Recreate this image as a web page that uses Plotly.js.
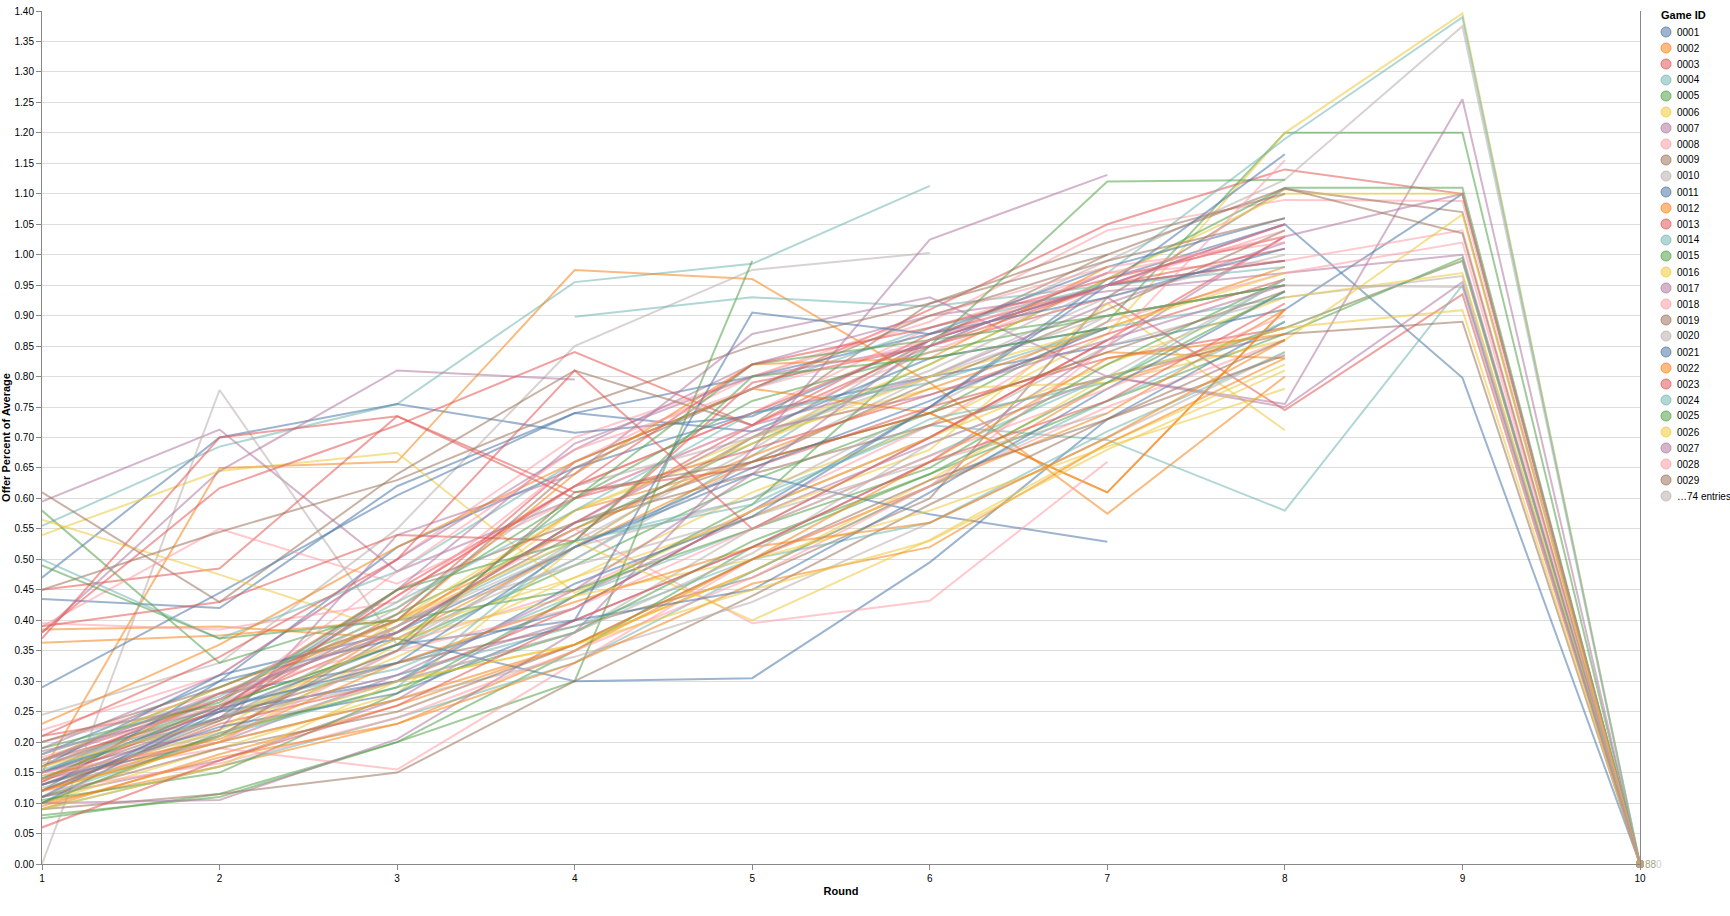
<!DOCTYPE html>
<html>
<head>
<meta charset="utf-8">
<script src="https://cdn.plot.ly/plotly-3.0.1.min.js"></script>
<style>
html,body{margin:0;padding:0;background:#fff;}
#chart{width:1730px;height:916px;}
</style>
</head>
<body>
<div id="chart"></div>
<script>
// ---------- data ----------
const rounds = [1, 2, 3, 4, 5, 6, 7, 8, 9, 10];

const palette = ["#4c78a8", "#f58518", "#e45756", "#72b7b2", "#54a24b",
                 "#eeca3b", "#b279a2", "#ff9da6", "#9d755d", "#bab0ac"];

// Offer percent of average, rounds 1..10 (null = no offer that round)
const offers001to020 = [
  [0.15, 0.28, 0.33, 0.42, 0.58, 0.75, 0.96, 1.05, 0.798, 0],
  [0.12, 0.21, 0.39, 0.58, 0.66, 0.74, 0.84, 0.83, null, null],
  [0.17, 0.25, 0.41, 0.66, 0.78, 0.91, 1.05, 1.14, 1.10, 0],
  [0.555, 0.685, 0.755, 0.955, 0.985, 1.113, null, null, null, null],
  [0.16, 0.26, 0.36, 0.49, 0.63, 0.74, 0.89, 1.20, 1.20, 0],
  [0.13, 0.22, 0.34, 0.47, 0.61, 0.72, 0.87, 1.20, 1.396, 0],
  [0.11, 0.17, 0.27, 0.44, 0.57, 0.69, 0.80, 0.755, 1.255, 0],
  [0.22, 0.31, 0.50, 0.70, 0.80, 0.89, 1.04, 1.09, 1.088, 0],
  [0.15, 0.24, 0.33, 0.39, 0.47, 0.60, 0.93, 1.108, 1.07, 0],
  [0.10, 0.21, 0.35, 0.53, 0.68, 0.86, 0.99, 1.123, 1.375, 0],
  [0.18, 0.30, 0.52, 0.65, 0.74, 0.80, 0.85, 0.91, 1.10, 0],
  [0.09, 0.18, 0.26, 0.36, 0.48, 0.62, 0.79, 0.88, 0.99, 0],
  [0.21, 0.26, 0.38, 0.56, 0.72, 0.85, 0.93, 0.745, 0.935, 0],
  [0.12, 0.24, 0.35, 0.50, 0.67, 0.85, 0.97, 1.19, 1.39, 0],
  [0.17, 0.29, 0.41, 0.55, 0.69, 0.82, 0.96, 1.11, 1.11, 0],
  [0.10, 0.19, 0.28, 0.52, 0.70, 0.82, 0.96, 1.10, 1.10, 0],
  [0.14, 0.20, 0.31, 0.40, 0.52, 0.66, 0.85, 1.03, 1.10, 0],
  [0.16, 0.25, 0.44, 0.62, 0.74, 0.88, 0.97, 0.99, 1.04, 0],
  [0.17, 0.27, 0.39, 0.54, 0.70, 0.86, 1.00, 1.109, 1.035, 0],
  [0.13, 0.24, 0.30, 0.38, 0.55, 0.70, 0.85, 0.93, 0.965, 0]
];

const offers021to040 = [
  [0.47, 0.70, 0.755, 0.708, 0.735, 0.86, 0.95, 0.99, null, null],
  [0.15, 0.65, 0.66, 0.975, 0.96, 0.79, 0.575, 0.80, null, null],
  [0.12, 0.23, 0.30, 0.42, 0.58, 0.70, 0.86, 1.03, null, null],
  [0.15, 0.27, 0.39, 0.53, 0.60, 0.72, 0.696, 0.58, 0.95, 0],
  [0.08, 0.11, 0.20, 0.35, 0.52, 0.64, 0.76, 0.87, 0.995, 0],
  [0.11, 0.22, 0.40, 0.58, 0.70, 0.78, 0.79, 0.86, 1.066, 0],
  [0.19, 0.31, 0.50, 0.68, 0.82, 0.90, 0.94, 0.97, 1.00, 0],
  [0.20, 0.28, 0.36, 0.45, 0.58, 0.72, 0.89, 0.97, 1.02, 0],
  [0.13, 0.21, 0.38, 0.56, 0.64, 0.72, 0.80, 0.87, 0.89, 0],
  [0.245, 0.33, 0.55, 0.85, 0.975, 1.003, null, null, null, null],
  [0.435, 0.42, 0.62, 0.74, 0.80, 0.87, 0.98, 1.06, null, null],
  [0.10, 0.16, 0.23, 0.35, 0.50, 0.62, 0.74, 0.91, null, null],
  [0.16, 0.27, 0.45, 0.62, 0.74, 0.86, 0.95, 0.99, null, null],
  [0.14, 0.26, 0.32, 0.44, 0.55, 0.67, 0.80, 0.88, 0.99, 0],
  [0.075, 0.115, 0.20, 0.30, 0.99, null, null, null, null, null],
  [0.54, 0.645, 0.675, 0.445, 0.58, 0.70, 0.82, 0.93, 0.97, 0],
  [0.595, 0.713, 0.48, 0.60, 0.72, 0.80, 0.92, 1.02, null, null],
  [0.14, 0.19, 0.155, 0.33, 0.50, 0.62, 0.75, 0.86, null, null],
  [0.61, 0.43, 0.64, 0.81, 0.72, 0.92, 1.00, null, null, null],
  [0.00, 0.778, 0.36, 0.52, 0.60, 0.75, 0.90, 0.95, null, null]
];

const offers041to060 = [
  [0.29, 0.445, 0.605, 0.74, 0.71, 0.83, 0.88, null, null, null],
  [0.385, 0.39, 0.37, 0.52, 0.66, 0.74, 0.61, 0.91, null, null],
  [0.45, 0.485, 0.735, 0.61, 0.65, 0.75, 0.83, 0.88, null, null],
  [null, null, null, 0.898, 0.93, 0.915, 0.95, null, null, null],
  [0.58, 0.33, 0.42, 0.60, 0.76, 0.84, 0.90, 0.95, null, null],
  [0.565, 0.475, 0.38, 0.47, 0.57, 0.68, 0.92, 0.712, null, null],
  [0.38, 0.645, 0.81, 0.795, null, null, null, null, null, null],
  [0.39, 0.55, 0.46, 0.60, 0.72, 0.84, 0.95, 1.04, null, null],
  [0.45, 0.545, 0.63, 0.75, 0.85, 0.92, 1.02, 1.10, null, null],
  [0.17, 0.24, 0.37, 0.50, 0.66, 0.80, 0.90, 0.95, 0.947, 0],
  [0.12, 0.30, 0.37, 0.30, 0.305, 0.495, 0.73, 0.89, null, null],
  [0.363, 0.375, 0.40, 0.55, 0.67, 0.78, 0.88, 0.98, null, null],
  [0.38, 0.617, 0.72, 0.84, 0.72, 0.87, 0.95, 1.05, null, null],
  [0.50, 0.37, 0.48, 0.66, 0.78, 0.88, 0.95, 0.98, null, null],
  [0.49, 0.37, 0.40, 0.45, 0.55, 0.65, 0.82, 0.96, null, null],
  [0.10, 0.21, 0.30, 0.36, 0.48, 0.63, 0.80, 0.88, 0.909, 0],
  [0.15, 0.22, 0.54, 0.64, 0.87, 0.93, 0.80, 0.75, 0.955, 0],
  [0.395, 0.385, 0.43, 0.66, 0.80, 0.90, 0.98, 1.02, null, null],
  [0.09, 0.115, 0.15, 0.30, 0.44, 0.59, 0.73, 0.86, null, null],
  [0.15, 0.26, 0.42, 0.62, 0.70, 0.80, 0.93, 1.00, null, null]
];

const offers061to080 = [
  [0.16, 0.31, 0.38, 0.52, 0.64, 0.574, 0.529, null, null, null],
  [0.23, 0.36, 0.52, 0.66, 0.78, 0.74, 0.61, 0.91, null, null],
  [0.37, 0.70, 0.735, 0.60, 0.68, 0.77, 0.87, 0.96, null, null],
  [0.09, 0.16, 0.24, 0.33, 0.48, 0.62, 0.76, 0.89, null, null],
  [0.105, 0.15, 0.28, 0.44, 0.59, 0.85, 1.12, 1.123, null, null],
  [0.12, 0.20, 0.36, 0.58, 0.69, 0.80, 0.88, 0.97, null, null],
  [0.10, 0.105, 0.205, 0.38, 0.68, 1.025, 1.131, null, null, null],
  [0.18, 0.27, 0.39, 0.55, 0.395, 0.432, 0.66, null, null, null],
  [0.14, 0.24, 0.45, 0.56, 0.66, 0.79, 0.91, 1.04, null, null],
  [0.20, 0.27, 0.40, 0.49, 0.57, 0.66, 0.74, null, null, null],
  [0.10, 0.25, 0.30, 0.46, 0.57, 0.75, 0.95, 1.165, null, null],
  [0.135, 0.28, 0.40, 0.64, 0.82, 0.83, 0.98, null, null, null],
  [0.39, 0.43, 0.54, 0.53, 0.79, 0.85, 0.95, 1.01, null, null],
  [0.155, 0.24, 0.31, 0.39, 0.50, 0.56, 0.71, 0.84, null, null],
  [0.14, 0.26, 0.36, 0.60, 0.82, 0.86, 0.90, 0.95, null, null],
  [0.17, 0.29, 0.40, 0.53, 0.40, 0.532, 0.69, 0.82, null, null],
  [0.185, 0.255, 0.45, 0.69, 0.80, 0.85, 0.97, null, null, null],
  [0.12, 0.165, 0.24, 0.35, 0.47, 0.62, 0.85, 1.155, null, null],
  [0.20, 0.29, 0.40, 0.65, 0.78, 0.90, 0.99, 1.06, null, null],
  [0.125, 0.20, 0.27, 0.34, 0.43, 0.56, 0.70, 0.84, null, null]
];

const offers081to103 = [
  [0.15, 0.25, 0.36, 0.40, 0.905, 0.87, 0.93, 1.01, null, null],
  [0.095, 0.175, 0.23, 0.33, 0.46, 0.52, 0.69, 0.83, null, null],
  [0.135, 0.255, 0.44, 0.62, 0.82, 0.88, 0.96, 1.03, null, null],
  [0.11, 0.21, 0.29, 0.53, 0.59, 0.73, 0.79, 0.96, null, null],
  [0.19, 0.265, 0.45, 0.53, 0.80, 0.83, 0.88, null, null, null],
  [0.16, 0.235, 0.37, 0.44, 0.50, 0.58, 0.685, 0.78, null, null],
  [0.13, 0.24, 0.31, 0.45, 0.64, 0.86, 0.95, 1.05, null, null],
  [0.175, 0.26, 0.48, 0.68, 0.78, 0.86, 0.97, 1.03, null, null],
  [0.11, 0.19, 0.25, 0.36, 0.50, 0.63, 0.73, 0.835, null, null],
  [0.165, 0.235, 0.39, 0.52, 0.70, 0.81, 0.95, null, null, null],
  [0.13, 0.225, 0.28, 0.40, 0.45, 0.61, 0.78, 0.94, null, null],
  [0.145, 0.205, 0.33, 0.43, 0.52, 0.56, 0.70, 0.86, null, null],
  [0.21, 0.34, 0.50, 0.81, 0.55, 0.70, 0.86, null, null, null],
  [0.18, 0.275, 0.43, 0.58, 0.74, 0.79, 0.88, 0.93, null, null],
  [0.10, 0.215, 0.29, 0.38, 0.53, 0.64, 0.79, 0.94, null, null],
  [0.09, 0.16, 0.30, 0.36, 0.45, 0.53, 0.68, 0.81, null, null],
  [0.17, 0.28, 0.38, 0.56, 0.71, 0.77, 0.86, 0.95, null, null],
  [0.15, 0.20, 0.35, 0.42, 0.55, 0.67, 0.78, 0.90, null, null],
  [0.12, 0.235, 0.35, 0.61, 0.66, 0.74, 0.84, 0.94, null, null],
  [0.14, 0.215, 0.30, 0.38, 0.51, 0.69, 0.80, 0.96, null, null],
  [0.11, 0.255, 0.33, 0.52, 0.65, 0.76, 0.88, null, null, null],
  [0.12, 0.20, 0.27, 0.36, 0.50, 0.66, 0.83, 0.87, null, null],
  [0.06, 0.17, 0.26, 0.40, 0.52, 0.66, 0.76, 0.92, null, null]
];

const offers = [].concat(offers001to020, offers021to040, offers041to060,
                         offers061to080, offers081to103);
const gameIds = offers.map((_, i) => String(i + 1).padStart(4, "0"));
const legendShown = 29;

// ---------- helpers ----------
function rgba(hex, a) {
  const n = parseInt(hex.slice(1), 16);
  return "rgba(" + ((n >> 16) & 255) + "," + ((n >> 8) & 255) + "," + (n & 255) + "," + a + ")";
}
const colorOf = i => palette[i % palette.length];

// ---------- traces ----------
const traces = offers.map((row, i) => ({
  type: "scatter",
  mode: "lines",
  name: gameIds[i],
  x: rounds,
  y: row,
  connectgaps: false,
  line: { color: colorOf(i), width: 2 },
  opacity: 0.55,
  showlegend: false,
  hovertemplate: "Game " + gameIds[i] + "<br>Round %{x}: %{y:.2f}<extra></extra>"
}));

// end-point symbols (last round of the games that reached round 10)
const endX = [], endY = [], endC = [];
offers.forEach((row, i) => {
  const last = row[rounds.length - 1];
  if (last !== null) { endX.push(rounds[rounds.length - 1]); endY.push(last); endC.push(colorOf(i)); }
});
traces.push({
  type: "scatter", mode: "markers", x: endX, y: endY, showlegend: false,
  hoverinfo: "skip", cliponaxis: false,
  marker: { size: 8, color: endC, opacity: 0.25, line: { width: 0 } }
});

// ---------- layout ----------
const W = 1730, H = 916;
const plotL = 42, plotR = 1640, plotT = 11, plotB = 864;
const pw = plotR - plotL, ph = plotB - plotT;
const px = x => (x - plotL) / pw;
const py = y => (plotB - y) / ph;

const fontFam = "Liberation Sans, Arial, Helvetica, sans-serif";
const annotations = [];
const shapes = [];

annotations.push({
  xref: "paper", yref: "paper", x: px(1659), y: py(15),
  xanchor: "left", yanchor: "middle", showarrow: false,
  text: "<b>Game ID</b>", font: { family: fontFam, size: 11, color: "#000" }
});
const legendItems = gameIds.slice(0, legendShown).map((id, i) => ({ label: id, color: colorOf(i) }));
legendItems.push({ label: "…" + (gameIds.length - legendShown) + " entries", color: "#bab0ac" });
legendItems.forEach((it, k) => {
  const yc = 32 + 16 * k;
  shapes.push({
    type: "circle", xref: "paper", yref: "paper",
    xsizemode: "pixel", ysizemode: "pixel",
    xanchor: px(1666), yanchor: py(yc),
    x0: -5, x1: 5, y0: -5, y1: 5,
    fillcolor: rgba(it.color, 0.55), line: { color: rgba(it.color, 0.75), width: 1 }
  });
  annotations.push({
    xref: "paper", yref: "paper", x: px(1675), y: py(yc),
    xanchor: "left", yanchor: "middle", showarrow: false,
    text: it.label, font: { family: fontFam, size: 10, color: "#000" }
  });
});

// overlapping end labels at the last round
annotations.push({
  x: 10, y: 0, xref: "x", yref: "y", xanchor: "left", yanchor: "middle",
  xshift: 3, showarrow: false, text: "88",
  font: { family: fontFam, size: 10, color: "rgba(120,130,80,0.75)" }
});
annotations.push({
  x: 10, y: 0, xref: "x", yref: "y", xanchor: "left", yanchor: "middle",
  xshift: 14, showarrow: false, text: "0",
  font: { family: fontFam, size: 10, color: "rgba(190,190,190,0.8)" }
});

const layout = {
  width: W, height: H,
  margin: { l: plotL, r: W - plotR, t: plotT, b: H - plotB, pad: 0 },
  paper_bgcolor: "#fff", plot_bgcolor: "#fff",
  font: { family: fontFam, size: 10, color: "#000" },
  showlegend: false,
  hovermode: "closest",
  xaxis: {
    range: [1, 10], tickvals: rounds, ticktext: rounds.map(String),
    showgrid: false, zeroline: false,
    showline: true, linecolor: "#888", linewidth: 1,
    ticks: "outside", ticklen: 5, tickcolor: "#888",
    tickfont: { family: fontFam, size: 10, color: "#000" },
    title: { text: "<b>Round</b>", font: { family: fontFam, size: 11, color: "#000" }, standoff: 4 },
    automargin: false
  },
  yaxis: {
    range: [0, 1.40], dtick: 0.05, tick0: 0, tickformat: ".2f",
    showgrid: true, gridcolor: "#ddd", gridwidth: 1, zeroline: false,
    showline: true, linecolor: "#888", linewidth: 1, mirror: true,
    ticks: "outside", ticklen: 5, tickcolor: "#888",
    tickfont: { family: fontFam, size: 10, color: "#000" },
    title: { text: "<b>Offer Percent of Average</b>", font: { family: fontFam, size: 11, color: "#000" }, standoff: 2 },
    automargin: false
  },
  annotations: annotations,
  shapes: shapes
};

Plotly.newPlot("chart", traces, layout, { displayModeBar: false, responsive: false });
</script>
</body>
</html>
